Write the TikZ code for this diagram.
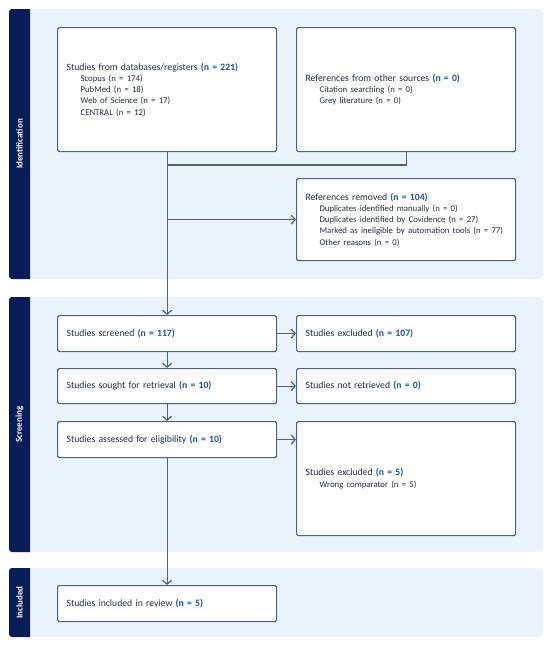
\documentclass[tikz,border=0pt]{standalone}
\usepackage{fontspec}
\setmainfont{Carlito}
\usetikzlibrary{arrows.meta}
\definecolor{navybar}{RGB}{10,28,88}
\definecolor{panelbg}{RGB}{235,244,253}
\definecolor{edge}{RGB}{74,100,128}
\definecolor{numblue}{RGB}{28,84,160}
\definecolor{bodytext}{RGB}{38,48,66}
\newcommand{\nval}[1]{\textcolor{numblue}{\textbf{(#1)}}}
\newcommand{\indt}{\hspace*{14pt}\fontsize{8.75}{11.2}\selectfont}

\begin{document}
\begin{tikzpicture}[
        x = 1pt, y = -1pt,
        box/.style = {draw=edge, fill=white, line width=1.2pt, rounded corners=1.5pt,
          anchor=north west, text width=201pt, inner xsep=9pt, inner ysep=0pt,
          align=left, text=bodytext, font=\fontsize{9.7}{11.3}\selectfont},
        panel/.style = {fill=panelbg, rounded corners=4pt},
        bar/.style = {fill=navybar, rounded corners=3pt},
        stage/.style = {rotate=90, text=white, font=\bfseries\fontsize{9}{10}\selectfont},
        link/.style = {draw=edge, line width=1.2pt},
        arrow/.style = {link, -{Straight Barb[length=4pt, width=9pt]}},
      ]
      \useasboundingbox (0,0) rectangle (550,645);

      % stage panels
      \foreach \ytop/\ybot/\name in {9/279/Identification, 297/552/Screening, 568/637/Included} {
        \fill[panel] (9,\ytop) rectangle (543,\ybot);
        \begin{scope}
          \clip (9,\ytop) rectangle (30,\ybot);
          \fill[bar] (9,\ytop) rectangle (40,\ybot);
        \end{scope}
        \node[stage] (\name) at (19.5,{(\ytop+\ybot)/2}) {\name};
      }

      % identification
      \node[box, minimum height=124pt] (db) at (57,27) {Studies from databases/registers \nval{n = 221}\\
        \indt Scopus (n = 174)\\
        \indt PubMed (n = 18)\\
        \indt Web of Science (n = 17)\\
        \indt CENTRAL (n = 12)};
      \node[box, minimum height=124pt] (other) at (296,27) {References from other sources \nval{n = 0}\\
        \indt Citation searching (n = 0)\\
        \indt Grey literature (n = 0)};
      \node[box, minimum height=82pt] (removed) at (296,178) {References removed \nval{n = 104}\\
        \indt Duplicates identified manually (n = 0)\\
        \indt Duplicates identified by Covidence (n = 27)\\
        \indt Marked as ineligible by automation tools (n = 77)\\
        \indt Other reasons (n = 0)};

      % screening
      \node[box, minimum height=36pt] (screened) at (57,315) {Studies screened \nval{n = 117}};
      \node[box, minimum height=36pt] (excl) at (296,315) {Studies excluded \nval{n = 107}};
      \node[box, minimum height=35pt] (sought) at (57,368) {Studies sought for retrieval \nval{n = 10}};
      \node[box, minimum height=35pt] (notret) at (296,368) {Studies not retrieved \nval{n = 0}};
      \node[box, minimum height=36pt] (assessed) at (57,421) {Studies assessed for eligibility \nval{n = 10}};
      \node[box, minimum height=114pt] (excl2) at (296,421) {Studies excluded \nval{n = 5}\\
        \indt Wrong comparator (n = 5)};

      % included
      \node[box, minimum height=36pt] (incl) at (57,585) {Studies included in review \nval{n = 5}};

      % connectors
      \coordinate (merge) at (db.south |- 0,165);
      \draw[link] (other.south) |- (merge);
      \draw[arrow] (db.south) -- (screened.north);
      \draw[arrow] (db.south |- removed.west) -- (removed.west);
      \draw[arrow] (screened.east) -- (excl.west);
      \draw[arrow] (screened.south) -- (sought.north);
      \draw[arrow] (sought.east) -- (notret.west);
      \draw[arrow] (sought.south) -- (assessed.north);
      \draw[arrow] (assessed.east) -- (assessed.east -| excl2.west);
      \draw[arrow] (assessed.south) -- (incl.north);

    \end{tikzpicture}
\end{document}
